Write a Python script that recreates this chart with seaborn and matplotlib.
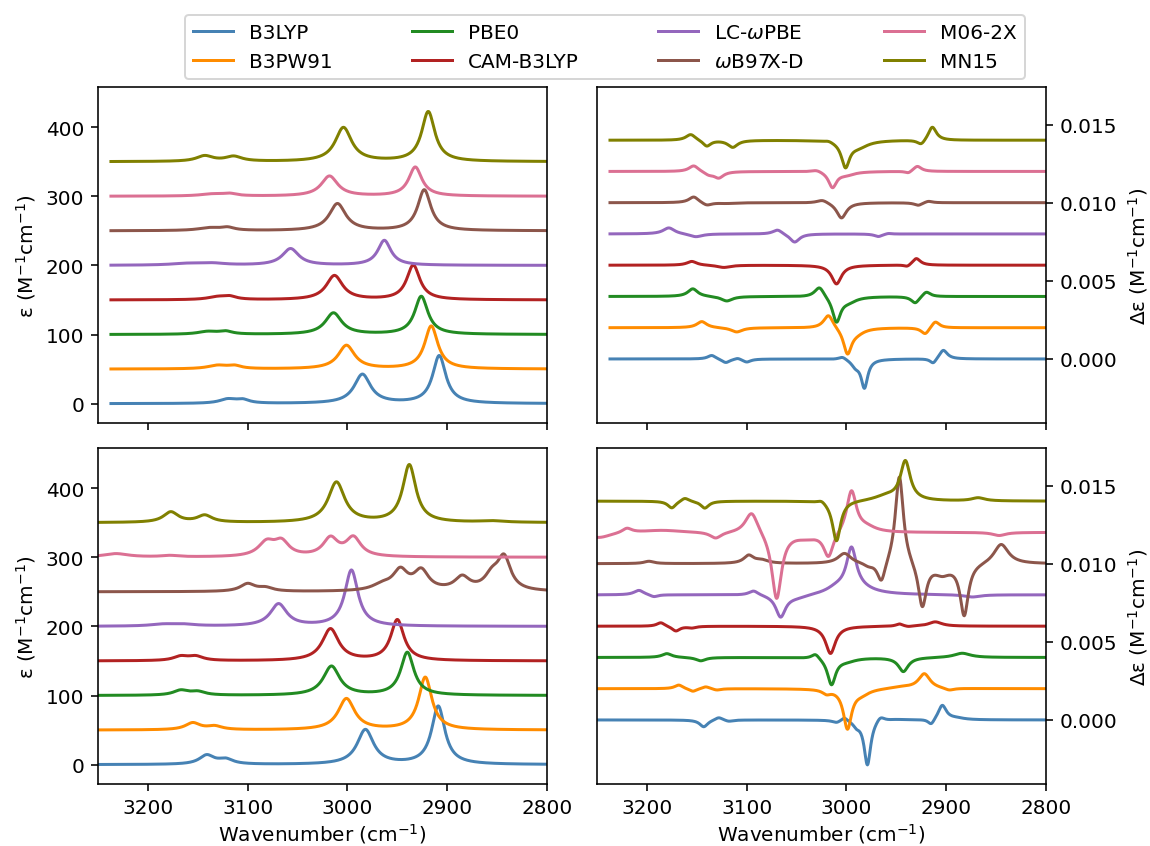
import numpy as np
import pandas as pd
import seaborn as sns
import matplotlib.pyplot as plt

# functionals, in legend order
functionals = ['B3LYP', 'B3PW91', 'PBE0', 'CAM-B3LYP',
               'LC-$\\omega$PBE', '$\\omega$B97X-D', 'M06-2X', 'MN15']
colors = ['steelblue', 'darkorange', 'forestgreen', 'firebrick',
          'tab:purple', 'tab:brown', 'palevioletred', 'olive']

ir_step = 50        # vertical offset between IR traces
vcd_step = 0.002    # vertical offset between VCD traces

# bands: (centre cm-1, peak height, half width cm-1)
# IR heights in M-1cm-1, VCD heights in 1e-3 M-1cm-1
ir_top = [
    [(3120, 6, 10), (3105, 5, 8), (2985, 42, 10), (2908, 69, 8)],
    [(3130, 5, 12), (3113, 4, 8), (3001, 34, 10), (2916, 62, 8)],
    [(3140, 4, 12), (3122, 4, 8), (3014, 31, 10), (2926, 55, 8)],
    [(3130, 4, 12), (3118, 4, 8), (3013, 35, 10), (2934, 50, 8)],
    [(3160, 2.5, 20), (3135, 2.5, 15), (3057, 24, 10), (2963, 36, 8)],
    [(3138, 4, 14), (3120, 4, 8), (3010, 39, 10), (2923, 59, 8)],
    [(3135, 3, 15), (3118, 3, 8), (3018, 29, 10), (2932, 42, 8)],
    [(3143, 8, 10), (3114, 7, 10), (3004, 49, 10), (2919, 72, 8)],
]

ir_bottom = [
    [(3141, 13, 9), (3122, 7, 9), (2982, 50, 10), (2909, 84, 8)],
    [(3155, 10, 9), (3133, 5, 9), (3001, 45, 10), (2922, 76, 8)],
    [(3167, 7, 9), (3150, 5, 9), (3016, 42, 10), (2940, 62, 8)],
    [(3167, 6, 9), (3152, 6, 9), (3017, 46, 10), (2950, 59, 8)],
    [(3185, 2.5, 15), (3165, 2.5, 15), (3069, 32, 10), (2996, 81, 8)],
    [(3100, 11, 9), (3082, 5, 9), (2965, 8, 12), (2947, 28, 9), (2926, 28, 9),
     (2885, 19, 9), (2855, 20, 9), (2843, 46, 8)],
    [(3232, 5, 15), (3178, 2, 10), (3081, 20, 10), (3066, 20, 9),
     (3017, 26, 9), (2994, 27, 9)],
    [(3177, 15, 9), (3143, 10, 9), (3011, 58, 10), (2938, 83, 8), (2855, 2, 15)],
]

vcd_top = [
    [(3135, 0.25, 5), (3121, -0.25, 5), (3109, 0.1, 4), (3100, -0.2, 5),
     (3004, 0.2, 5), (2991, -0.4, 5), (2982, -1.8, 4), (2913, -0.35, 4),
     (2903, 0.6, 5)],
    [(3145, 0.4, 6), (3110, -0.28, 7), (3018, 0.9, 6), (2999, -1.6, 5),
     (2990, -0.3, 10), (2921, -0.45, 5), (2911, 0.45, 5)],
    [(3154, 0.5, 6), (3120, -0.3, 7), (3027, 0.7, 6), (3010, -1.6, 5),
     (2998, -0.3, 10), (2931, -0.45, 5), (2920, 0.35, 5)],
    [(3155, 0.25, 6), (3123, -0.15, 8), (3010, -1.2, 6), (2939, -0.15, 4),
     (2930, 0.45, 5)],
    [(3178, 0.4, 7), (3151, -0.2, 8), (3069, 0.3, 6), (3052, -0.55, 6),
     (2968, -0.17, 5), (2958, 0.06, 4)],
    [(3153, 0.4, 6), (3140, -0.2, 6), (3120, -0.05, 10), (3024, 0.22, 7),
     (3005, -1.0, 6), (2928, -0.18, 5), (2918, 0.12, 5)],
    [(3153, 0.4, 6), (3138, -0.2, 6), (3128, -0.4, 6), (3030, 0.15, 7),
     (3014, -1.0, 5), (3000, -0.2, 10), (2938, -0.15, 4), (2929, 0.35, 5)],
    [(3156, 0.4, 6), (3140, -0.4, 5), (3114, -0.45, 6), (3018, 0.1, 5),
     (3001, -1.6, 5), (2988, -0.4, 12), (2925, -0.35, 5), (2914, 0.9, 5)],
]

vcd_bottom = [
    [(3143, -0.45, 5), (3128, 0.2, 5), (3118, -0.1, 5), (3010, -0.15, 5),
     (3002, 0.25, 4), (2990, -0.3, 4), (2979, -2.9, 4), (2966, 0.35, 5),
     (2950, 0.05, 10), (2915, -0.4, 4), (2904, 0.95, 5), (2890, 0.1, 10)],
    [(3168, 0.25, 5), (3154, -0.2, 5), (3141, 0.15, 5), (3130, -0.1, 5),
     (3020, -0.25, 5), (2999, -2.5, 5), (2985, -0.3, 10), (2945, 0.12, 15),
     (2922, 0.95, 7), (2897, -0.15, 6)],
    [(3180, 0.25, 6), (3146, -0.22, 6), (3031, 0.35, 5), (3015, -1.7, 5),
     (3000, -0.2, 12), (2943, -0.9, 6), (2884, 0.28, 10)],
    [(3186, 0.25, 5), (3171, -0.32, 5), (3155, -0.1, 5), (3016, -1.75, 6),
     (2947, 0.15, 4), (2938, -0.05, 4), (2911, 0.28, 8)],
    [(3208, 0.3, 6), (3193, -0.15, 5), (3093, 0.3, 6), (3066, -1.4, 6),
     (3050, -0.2, 15), (3010, 0.3, 12), (2995, 2.6, 6), (2990, 0.4, 20),
     (2874, -0.15, 10)],
    [(3198, 0.15, 6), (3098, 0.5, 6), (3085, 0.2, 8), (3002, 0.66, 8),
     (2978, -0.2, 6), (2965, -1.4, 5), (2947, 5.8, 5), (2924, -2.85, 5),
     (2904, -0.6, 10), (2882, -3.3, 5), (2845, 1.3, 9)],
    [(3248, -0.35, 15), (3220, 0.3, 6), (3185, 0.15, 25), (3131, -0.4, 7),
     (3095, 1.45, 8), (3070, -4.3, 6), (3040, -0.3, 15), (3018, -1.6, 6),
     (2995, 2.7, 6), (2980, 0.3, 12), (2847, -0.2, 8)],
    [(3175, -0.45, 5), (3162, 0.25, 5), (3142, -0.45, 5), (3025, 0.2, 5),
     (3010, -2.6, 5), (2960, 0.3, 15), (2941, 2.5, 6), (2868, 0.2, 8)],
]


def spectrum(x, bands, scale=1.0):
    y = np.zeros_like(x)
    for c, h, g in bands:
        y += h * g**2 / ((x - c)**2 + g**2)
    return y * scale


def make_frame(bands_list, x, step, scale=1.0):
    rows = []
    for i, (name, bands) in enumerate(zip(functionals, bands_list)):
        rows.append(pd.DataFrame({'wn': x,
                                  'val': spectrum(x, bands, scale) + i * step,
                                  'functional': name}))
    return pd.concat(rows, ignore_index=True)


x_top = np.arange(3237, 2799.5, -0.5)
x_bot = np.arange(3250, 2799.5, -0.5)

panels = [
    make_frame(ir_top, x_top, ir_step),
    make_frame(vcd_top, x_top, vcd_step, 1e-3),
    make_frame(ir_bottom, x_bot, ir_step),
    make_frame(vcd_bottom, x_bot, vcd_step, 1e-3),
]

fig, axes = plt.subplots(2, 2, figsize=(8, 5.892), dpi=143.75,
                         sharex=True, sharey='col')
fig.subplots_adjust(left=0.0852, right=0.9096, top=0.8961, bottom=0.0732,
                    wspace=0.1114, hspace=0.0744)

for ax, df in zip(axes.flat, panels):
    sns.lineplot(data=df, x='wn', y='val', hue='functional',
                 hue_order=functionals, palette=colors, estimator=None,
                 sort=False, linewidth=1.5, ax=ax)
    ax.set_xlabel('')
    ax.set_ylabel('')

handles, labels = axes[0, 0].get_legend_handles_labels()
for ax in axes.flat:
    if ax.get_legend() is not None:
        ax.get_legend().remove()

axes[0, 0].set_xlim(3250, 2800)
axes[0, 0].set_ylim(-28, 458)
axes[0, 1].set_ylim(-0.0041, 0.0174)

for ax in axes[:, 0]:
    ax.set_ylabel('ε (M$^{-1}$cm$^{-1}$)')
for ax in axes[:, 1]:
    ax.yaxis.tick_right()
    ax.yaxis.set_label_position('right')
    ax.set_ylabel('Δε (M$^{-1}$cm$^{-1}$)')
for ax in axes[1, :]:
    ax.set_xlabel('Wavenumber (cm$^{-1}$)', labelpad=2)

fig.legend(handles, labels, loc='upper left', ncol=4, mode='expand',
           bbox_to_anchor=(0.1523, 0.9, 0.7474, 0.093))

fig.savefig('out.png', dpi=143.75)
